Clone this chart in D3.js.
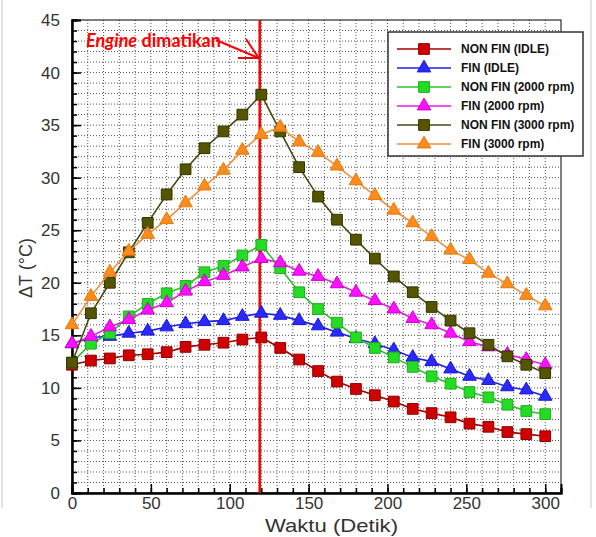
<!DOCTYPE html>
<html>
<head>
<meta charset="utf-8">
<script src="https://cdn.jsdelivr.net/npm/d3@7"></script>
<style>
body { margin: 0; background: #fff; }
svg { display: block; font-family: "Liberation Sans", Arial, sans-serif; }
.grid line { stroke: #555; stroke-width: 1; stroke-dasharray: 1,2; }
.axis path, .axis line { stroke: #000; }
.axis text { fill: #333; font-size: 17px; }
.legendText { font-size: 12px; font-weight: bold; fill: #111; }
</style>
</head>
<body>
<svg id="chart"></svg>
<script>
var width = 596, height = 537;
var margin = {left: 72, top: 20, right: 35, bottom: 44};
var plotW = width-margin.left-margin.right;
var plotH = height-margin.top-margin.bottom;

// data
var waktu = [0, 12, 24, 36, 48, 60, 72, 84, 96, 108, 120, 132, 144, 156, 168, 180, 192, 204, 216, 228, 240, 252, 264, 276, 288, 300];
var nonFinIdle = [12.2, 12.6, 12.8, 13.1, 13.2, 13.4, 13.9, 14.1, 14.3, 14.6, 14.8, 13.8, 12.7, 11.6, 10.6, 9.9, 9.3, 8.7, 8.0, 7.6, 7.2, 6.6, 6.3, 5.8, 5.6, 5.4];
var finIdle = [14.2, 14.8, 14.9, 15.2, 15.4, 15.8, 16.1, 16.3, 16.4, 16.8, 17.1, 16.9, 16.4, 15.9, 15.3, 14.7, 14.2, 13.6, 12.9, 12.5, 11.8, 11.1, 10.7, 10.1, 9.8, 9.2];
var nonFin2000 = [12.4, 14.2, 15.2, 16.8, 18.0, 19.0, 19.7, 21.0, 21.6, 22.6, 23.6, 21.4, 19.1, 17.5, 16.2, 14.8, 13.8, 12.9, 12.0, 11.1, 10.4, 9.6, 9.1, 8.4, 7.8, 7.5];
var fin2000 = [14.2, 14.9, 15.8, 16.5, 17.4, 18.1, 19.2, 20.1, 20.7, 21.5, 22.3, 21.9, 21.1, 20.6, 19.9, 19.1, 18.3, 17.5, 16.6, 16.0, 15.2, 14.4, 13.9, 13.2, 12.7, 12.2];
var nonFin3000 = [12.4, 17.1, 20.0, 22.9, 25.7, 28.4, 30.8, 32.8, 34.4, 36.0, 37.9, 34.4, 31.0, 28.2, 26.0, 24.1, 22.3, 20.6, 19.1, 17.7, 16.4, 15.2, 14.1, 13.0, 12.2, 11.4];
var fin3000 = [16.0, 18.7, 21.0, 23.0, 24.6, 26.0, 27.6, 29.2, 30.7, 32.6, 34.1, 34.8, 33.4, 32.4, 31.1, 29.7, 28.3, 26.9, 25.7, 24.4, 23.1, 22.2, 20.9, 19.9, 18.8, 17.8];

var seriesNames = ["NON FIN (IDLE)", "FIN (IDLE)", "NON FIN (2000 rpm)", "FIN (2000 rpm)", "NON FIN (3000 rpm)", "FIN (3000 rpm)"];
var seriesValues = [nonFinIdle, finIdle, nonFin2000, fin2000, nonFin3000, fin3000];
var seriesShapes = ["square", "triangle", "square", "triangle", "square", "triangle"];
var lineColors = ["#a00000", "#2020e0", "#30c030", "#e020e0", "#4a4a10", "#f09040"];
var fillColors = ["#d00000", "#2a2aff", "#22dd22", "#ff10ff", "#555500", "#ff8c1a"];
var strokeColors = ["#900000", "#1a1acc", "#22aa22", "#cc00cc", "#333300", "#e07a10"];

var engineOff = 119;
var xTicks = [0, 50, 100, 150, 200, 250, 300];
var yTicks = [0, 5, 10, 15, 20, 25, 30, 35, 40, 45];

var svg = d3.select("#chart")
.attr("width", width)
.attr("height", height);

// picture frame
svg.append("line")
.attr("x1", 2).attr("x2", 2).attr("y1", 0).attr("y2", 508)
.attr("stroke", "#c8c8c8");
svg.append("line")
.attr("x1", 591).attr("x2", 591).attr("y1", 0).attr("y2", 508)
.attr("stroke", "#c8c8c8");

var x = d3.scaleLinear().domain([0, 310]).range([0, plotW]);
var y = d3.scaleLinear().domain([0, 45]).range([plotH, 0]);

var g = svg.append("g")
.attr("transform", "translate("+[margin.left, margin.top]+")");

// dotted grid
var grid = g.append("g").attr("class", "grid");
grid.selectAll("line.gx")
.data(d3.range(10, 310, 10))
.enter().append("line")
.attr("class", "gx")
.attr("x1", function(d) { return x(d); })
.attr("x2", function(d) { return x(d); })
.attr("y1", 0)
.attr("y2", plotH);
grid.selectAll("line.gy")
.data(d3.range(1, 45, 1))
.enter().append("line")
.attr("class", "gy")
.attr("x1", 0)
.attr("x2", plotW)
.attr("y1", function(d) { return y(d); })
.attr("y2", function(d) { return y(d); });

// frame top/right
g.append("rect")
.attr("width", plotW)
.attr("height", plotH)
.attr("fill", "none")
.attr("stroke", "#000")
.attr("stroke-width", 1);

// axes, ticks pointing inwards
g.append("g")
.attr("class", "axis")
.attr("transform", "translate(0,"+plotH+")")
.call(d3.axisBottom(x).tickValues(xTicks).tickSize(-9).tickPadding(4));
g.append("g")
.attr("class", "axis")
.attr("transform", "translate(0,"+plotH+")")
.call(d3.axisBottom(x).tickValues(d3.range(0, 311, 10)).tickSize(-5).tickFormat(""));
g.append("g")
.attr("class", "axis")
.call(d3.axisLeft(y).tickValues(yTicks).tickSize(-9).tickPadding(12));
g.append("g")
.attr("class", "axis")
.call(d3.axisLeft(y).tickValues(d3.range(0, 46, 1)).tickSize(-5).tickFormat(""));
g.selectAll(".axis path").attr("stroke-width", 2);
g.selectAll(".axis line").attr("stroke-width", 1.5);

// engine off marker
g.append("line")
.attr("x1", x(engineOff)).attr("x2", x(engineOff))
.attr("y1", 0).attr("y2", plotH)
.attr("stroke", "#ff0000")
.attr("stroke-width", 2.5);

// series
var line = d3.line()
.x(function(d, i) { return x(waktu[i]); })
.y(function(d) { return y(d); });

function symbolFor(shape) {
	if (shape == "square") return d3.symbol().type(d3.symbolSquare).size(115)();
	return d3.symbol().type(d3.symbolTriangle).size(80)();
}

seriesValues.forEach(function(vals, k) {
	var gs = g.append("g").attr("class", "series");
	gs.append("path")
	.attr("d", line(vals))
	.attr("fill", "none")
	.attr("stroke", lineColors[k])
	.attr("stroke-width", 1.6);
	gs.selectAll("path.mark")
	.data(vals)
	.enter().append("path")
	.attr("class", "mark")
	.attr("d", symbolFor(seriesShapes[k]))
	.attr("transform", function(d, i) { return "translate("+[x(waktu[i]), y(d)]+")"; })
	.attr("fill", fillColors[k])
	.attr("stroke", strokeColors[k])
	.attr("stroke-width", 1);
});

// annotation
var note = g.append("text")
.attr("x", 14)
.attr("y", 27)
.attr("fill", "#ff0000")
.attr("font-family", "Lato, 'Open Sans', sans-serif")
.attr("font-weight", "bold")
.attr("font-size", "18px");
note.append("tspan").attr("font-style", "italic").text("Engine");
note.append("tspan").text(" dimatikan");

g.append("path")
.attr("d", "M144,20 L"+(x(engineOff)-1)+",38")
.attr("stroke", "#ff0000")
.attr("stroke-width", 2)
.attr("fill", "none");
g.append("path")
.attr("d", "M174,19 L"+(x(engineOff)-1)+",38 L166,38")
.attr("stroke", "#ff0000")
.attr("stroke-width", 2)
.attr("fill", "none");

// legend
var lx = 316, ly = 12, lw = 195, lh = 124;
var gLegend = g.append("g")
.attr("transform", "translate("+[lx, ly]+")");
gLegend.append("rect")
.attr("width", lw)
.attr("height", lh)
.attr("fill", "#fff")
.attr("stroke", "#333")
.attr("stroke-width", 1.5);
seriesNames.forEach(function(name, k) {
	var row = gLegend.append("g")
	.attr("transform", "translate("+[0, 17+k*19]+")");
	row.append("line")
	.attr("x1", 9).attr("x2", 63)
	.attr("stroke", lineColors[k])
	.attr("stroke-width", 1.6);
	row.append("path")
	.attr("d", symbolFor(seriesShapes[k]))
	.attr("transform", "translate(36,0)")
	.attr("fill", fillColors[k])
	.attr("stroke", strokeColors[k]);
	row.append("text")
	.attr("class", "legendText")
	.attr("x", 73)
	.attr("y", 4)
	.text(name);
});

// axis titles
svg.append("text")
.attr("x", 265)
.attr("y", 532)
.attr("font-size", "19px")
.attr("fill", "#333")
.attr("textLength", 133)
.attr("lengthAdjust", "spacingAndGlyphs")
.text("Waktu (Detik)");
svg.append("text")
.attr("transform", "translate(32,268) rotate(-90)")
.attr("text-anchor", "middle")
.attr("font-size", "18px")
.attr("fill", "#333")
.text("ΔT (°C)");
</script>
</body>
</html>
